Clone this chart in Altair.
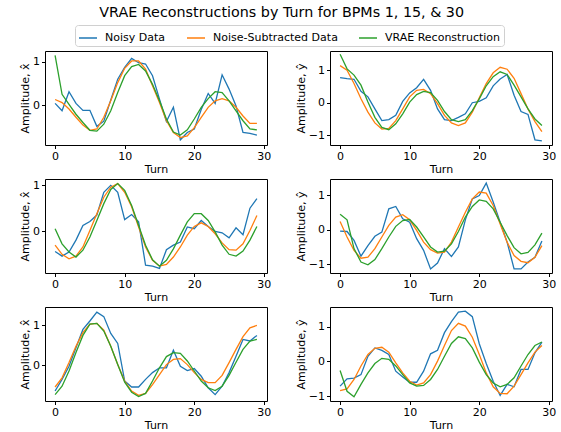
import altair as alt
import pandas as pd

turns = list(range(30))
series_names = ["Noisy Data", "Noise-Subtracted Data", "VRAE Reconstruction"]
series_colors = ["#1f77b4", "#ff7f0e", "#2ca02c"]
x_ticks = [0, 10, 20, 30]

# BPM 1, x
bpm1_x_noisy = [0.04, -0.13, 0.31, 0.04, -0.12, -0.12, -0.49, -0.37, 0.12, 0.6, 0.87, 1.08, 0.98, 0.95, 0.68, 0.14, -0.38, -0.05, -0.8, -0.63, -0.55, -0.1, 0.27, 0.04, 0.7, 0.37, -0.02, -0.63, -0.65, -0.69]
bpm1_x_denoised = [0.13, 0.06, -0.09, -0.28, -0.46, -0.58, -0.55, -0.28, 0.1, 0.52, 0.85, 1.02, 1.02, 0.83, 0.45, 0.06, -0.36, -0.63, -0.75, -0.71, -0.52, -0.28, -0.05, 0.1, 0.15, 0.1, -0.05, -0.25, -0.42, -0.42]
bpm1_x_recon = [1.15, 0.25, 0.02, -0.21, -0.4, -0.58, -0.6, -0.44, -0.13, 0.29, 0.68, 0.89, 0.94, 0.79, 0.48, 0.1, -0.32, -0.62, -0.69, -0.57, -0.32, -0.05, 0.15, 0.31, 0.29, 0.1, -0.13, -0.36, -0.55, -0.57]

# BPM 1, y
bpm1_y_noisy = [0.77, 0.74, 0.72, 0.35, 0.18, -0.19, -0.55, -0.52, -0.39, 0.04, 0.3, 0.46, 0.72, 0.38, -0.19, -0.52, -0.55, -0.45, -0.34, 0.0, 0.04, 0.15, 0.52, 0.73, 0.87, 0.23, -0.27, -0.36, -1.14, -1.17]
bpm1_y_denoised = [1.14, 1.0, 0.59, 0.12, -0.29, -0.62, -0.81, -0.79, -0.55, -0.19, 0.18, 0.38, 0.41, 0.28, -0.03, -0.39, -0.62, -0.7, -0.62, -0.29, 0.15, 0.59, 0.92, 1.09, 1.03, 0.75, 0.28, -0.19, -0.58, -0.89]
bpm1_y_recon = [1.49, 1.04, 0.85, 0.54, 0.02, -0.45, -0.76, -0.83, -0.65, -0.34, 0.02, 0.25, 0.35, 0.31, 0.07, -0.27, -0.52, -0.58, -0.52, -0.24, 0.12, 0.52, 0.8, 0.95, 0.87, 0.54, 0.18, -0.19, -0.5, -0.7]

# BPM 15, x
bpm15_x_noisy = [-0.45, -0.55, -0.46, -0.2, 0.12, 0.21, 0.35, 0.85, 1.0, 0.85, 0.25, 0.36, 0.2, -0.75, -0.77, -0.82, -0.41, -0.31, -0.24, 0.09, 0.05, 0.23, 0.1, -0.01, -0.04, -0.15, 0.07, -0.08, 0.5, 0.71]
bpm15_x_denoised = [-0.31, -0.51, -0.61, -0.55, -0.35, 0.01, 0.38, 0.74, 0.96, 1.04, 0.85, 0.53, 0.09, -0.35, -0.64, -0.77, -0.73, -0.57, -0.35, -0.09, 0.1, 0.18, 0.1, -0.06, -0.26, -0.41, -0.42, -0.28, 0.01, 0.34]
bpm15_x_recon = [0.05, -0.28, -0.46, -0.57, -0.42, -0.13, 0.23, 0.6, 0.91, 1.04, 0.89, 0.56, 0.12, -0.31, -0.63, -0.77, -0.64, -0.39, -0.09, 0.2, 0.38, 0.38, 0.23, -0.02, -0.31, -0.51, -0.55, -0.44, -0.2, 0.1]

# BPM 15, y
bpm15_y_noisy = [-0.04, -0.05, -0.31, -0.77, -0.46, -0.19, -0.07, 0.61, 0.68, 0.32, 0.22, -0.26, -0.6, -1.14, -0.97, -0.55, -0.78, -0.5, 0.29, 0.9, 1.0, 1.36, 0.81, 0.22, -0.36, -1.14, -1.14, -0.94, -0.8, -0.33]
bpm15_y_denoised = [0.24, -0.21, -0.6, -0.83, -0.8, -0.55, -0.21, 0.13, 0.37, 0.44, 0.29, -0.02, -0.36, -0.58, -0.68, -0.65, -0.36, 0.08, 0.51, 0.9, 1.1, 1.07, 0.71, 0.17, -0.36, -0.75, -0.92, -0.96, -0.8, -0.46]
bpm15_y_recon = [0.45, 0.29, -0.55, -0.94, -1.02, -0.87, -0.55, -0.21, 0.1, 0.27, 0.3, 0.08, -0.21, -0.5, -0.65, -0.62, -0.41, -0.05, 0.37, 0.68, 0.87, 0.83, 0.61, 0.22, -0.17, -0.52, -0.7, -0.66, -0.44, -0.1]

# BPM 30, x
bpm30_x_noisy = [-0.64, -0.35, -0.02, 0.44, 0.9, 1.11, 1.33, 1.22, 0.8, 0.55, -0.39, -0.54, -0.54, -0.35, -0.18, -0.06, -0.06, 0.38, -0.02, -0.13, -0.08, -0.27, -0.56, -0.73, -0.52, -0.18, 0.23, 0.65, 0.61, 0.75]
bpm30_x_denoised = [-0.54, -0.31, 0.07, 0.48, 0.82, 1.03, 1.05, 0.88, 0.48, 0.02, -0.39, -0.64, -0.75, -0.7, -0.48, -0.23, 0.02, 0.15, 0.17, 0.02, -0.18, -0.35, -0.43, -0.43, -0.25, 0.07, 0.4, 0.72, 0.94, 1.0]
bpm30_x_recon = [-0.73, -0.52, -0.14, 0.32, 0.75, 1.03, 1.05, 0.86, 0.48, 0.02, -0.42, -0.67, -0.78, -0.7, -0.39, -0.06, 0.22, 0.32, 0.3, 0.11, -0.14, -0.39, -0.56, -0.63, -0.52, -0.25, 0.08, 0.4, 0.61, 0.65]

# BPM 30, y
bpm30_y_noisy = [-0.71, -0.5, -0.48, -0.38, 0.15, 0.39, 0.32, 0.2, -0.28, -0.45, -0.6, -0.6, -0.28, 0.22, 0.32, 0.83, 1.15, 1.42, 1.45, 1.29, 0.51, -0.06, -0.57, -0.98, -0.66, -0.73, -0.23, -0.23, 0.25, 0.56]
bpm30_y_denoised = [-0.84, -0.79, -0.52, -0.13, 0.2, 0.38, 0.41, 0.27, -0.04, -0.33, -0.57, -0.68, -0.62, -0.38, 0.01, 0.46, 0.89, 1.1, 1.02, 0.7, 0.2, -0.33, -0.73, -0.92, -0.93, -0.71, -0.38, -0.04, 0.27, 0.46]
bpm30_y_recon = [-0.26, -0.86, -1.02, -0.66, -0.33, -0.06, 0.09, 0.06, -0.13, -0.38, -0.62, -0.71, -0.69, -0.52, -0.23, 0.15, 0.52, 0.71, 0.66, 0.39, -0.02, -0.38, -0.62, -0.73, -0.66, -0.47, -0.13, 0.2, 0.46, 0.56]

FONT = "DejaVu Sans"
W, H = 222, 94


def panel(noisy, denoised, recon, ytitle, ydomain, yticks):
    rows = []
    for name, vals in zip(series_names, [noisy, denoised, recon]):
        for t, v in zip(turns, vals):
            rows.append({"Turn": t, "Amplitude": v, "Series": name})
    df = pd.DataFrame(rows)
    return alt.Chart(df).mark_line(strokeWidth=1.3).encode(
        x=alt.X("Turn:Q", scale=alt.Scale(domain=[-1.45, 30.45], nice=False, zero=False),
                axis=alt.Axis(values=x_ticks, title="Turn", format="d")),
        y=alt.Y("Amplitude:Q", scale=alt.Scale(domain=ydomain, nice=False, zero=False),
                axis=alt.Axis(values=yticks, title=ytitle, format="d")),
        color=alt.Color("Series:N",
                        scale=alt.Scale(domain=series_names, range=series_colors),
                        sort=series_names,
                        legend=alt.Legend(orient="none", legendX=30, legendY=-26,
                                          direction="horizontal", title=None,
                                          symbolType="stroke", symbolSize=324,
                                          symbolStrokeWidth=1.5, labelFontSize=11,
                                          labelFont=FONT, labelOffset=7,
                                          columnPadding=18, padding=3,
                                          strokeColor="#d0d0d0", cornerRadius=3,
                                          fillColor="white")),
        detail="Series:N",
    ).properties(width=W, height=H)


xt = "Amplitude, x\u0302"
yt = "Amplitude, \u0177"

p1 = panel(bpm1_x_noisy, bpm1_x_denoised, bpm1_x_recon, xt, [-0.92, 1.25], [0, 1])
p2 = panel(bpm1_y_noisy, bpm1_y_denoised, bpm1_y_recon, yt, [-1.3, 1.59], [-1, 0, 1])
p3 = panel(bpm15_x_noisy, bpm15_x_denoised, bpm15_x_recon, xt, [-0.92, 1.14], [0, 1])
p4 = panel(bpm15_y_noisy, bpm15_y_denoised, bpm15_y_recon, yt, [-1.26, 1.48], [-1, 0, 1])
p5 = panel(bpm30_x_noisy, bpm30_x_denoised, bpm30_x_recon, xt, [-0.89, 1.46], [0, 1])
p6 = panel(bpm30_y_noisy, bpm30_y_denoised, bpm30_y_recon, yt, [-1.14, 1.57], [-1, 0, 1])

row1 = alt.hconcat(p1, p2, spacing=22)
row2 = alt.hconcat(p3, p4, spacing=22)
row3 = alt.hconcat(p5, p6, spacing=22)

chart = alt.vconcat(row1, row2, row3, spacing=3).properties(
    title=alt.TitleParams("VRAE Reconstructions by Turn for BPMs 1, 15, & 30",
                          fontSize=14.3, fontWeight="normal", font=FONT,
                          anchor="middle", offset=4, dx=-6, color="black"),
    padding={"left": 19, "top": 6, "right": 2, "bottom": 2},
).configure_view(
    stroke="black", strokeWidth=1
).configure_axis(
    domain=False, grid=False, ticks=True, tickSize=3.5, tickWidth=1, tickColor="black",
    labelFont=FONT, labelFontSize=11, labelColor="black", labelPadding=2,
    titleFont=FONT, titleFontSize=11, titleFontWeight="normal", titleColor="black",
    titlePadding=2,
).configure_legend(
    labelColor="black"
)

chart.save("out.html", embed_options={"renderer": "svg", "actions": False})
